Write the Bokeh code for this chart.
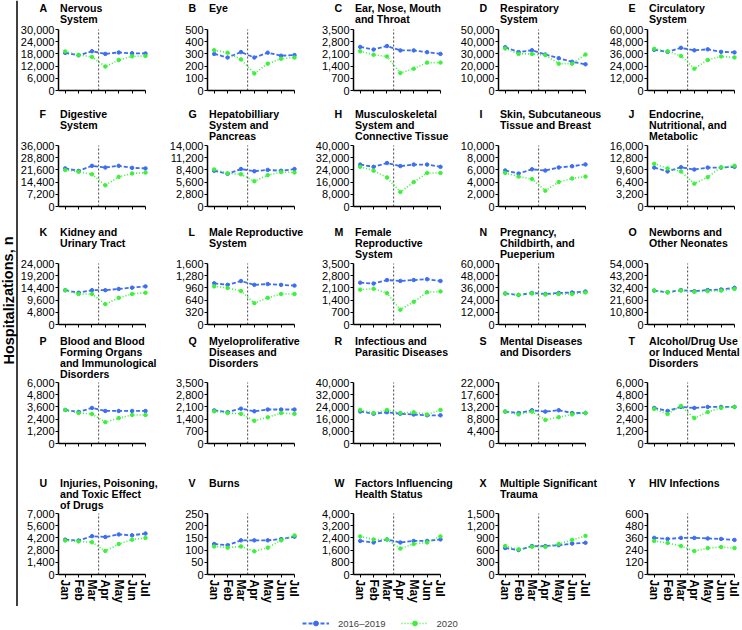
from bokeh.plotting import figure
from bokeh.layouts import row, column
from bokeh.models import Range1d, FixedTicker, NumeralTickFormatter, Span, Label, Legend, LegendItem
from bokeh.embed import file_html
from bokeh.resources import INLINE

# ---------------- data ----------------
months = ["Jan", "Feb", "Mar", "Apr", "May", "Jun", "Jul"]
letters = list("ABCDEFGHIJKLMNOPQRSTUVWXY")
titles = [
    "Nervous\nSystem", "Eye", "Ear, Nose, Mouth\nand Throat", "Respiratory\nSystem", "Circulatory\nSystem",
    "Digestive\nSystem", "Hepatobilliary\nSystem and\nPancreas", "Musculoskeletal\nSystem and\nConnective Tissue",
    "Skin, Subcutaneous\nTissue and Breast", "Endocrine,\nNutritional, and\nMetabolic",
    "Kidney and\nUrinary Tract", "Male Reproductive\nSystem", "Female\nReproductive\nSystem",
    "Pregnancy,\nChildbirth, and\nPueperium", "Newborns and\nOther Neonates",
    "Blood and Blood\nForming Organs\nand Immunological\nDisorders", "Myeloproliferative\nDiseases and\nDisorders",
    "Infectious and\nParasitic Diseases", "Mental Diseases\nand Disorders", "Alcohol/Drug Use\nor Induced Mental\nDisorders",
    "Injuries, Poisoning,\nand Toxic Effect\nof Drugs", "Burns", "Factors Influencing\nHealth Status",
    "Multiple Significant\nTrauma", "HIV Infections",
]
y_max = [30000, 500, 3500, 50000, 60000,
         36000, 14000, 40000, 10000, 16000,
         24000, 1600, 3500, 60000, 54000,
         6000, 3500, 40000, 22000, 6000,
         7000, 250, 4000, 1500, 600]

A_base = [18500, 17300, 19300, 18000, 18700, 18300, 18200]
A_2020 = [19200, 17500, 16500, 11800, 15000, 16800, 17000]
B_base = [300, 270, 315, 270, 310, 285, 290]
B_2020 = [330, 310, 255, 140, 220, 260, 270]
C_base = [2500, 2350, 2550, 2300, 2300, 2200, 2100]
C_2020 = [2250, 2050, 1950, 1000, 1250, 1600, 1600]
D_base = [35500, 31500, 33000, 29500, 26500, 23500, 21500]
D_2020 = [34500, 30000, 30000, 29000, 22000, 22000, 29500]
E_base = [40000, 38000, 42000, 39500, 40500, 38000, 37500]
E_2020 = [41000, 38500, 34000, 21500, 30000, 33500, 32500]
F_base = [22500, 21000, 24000, 23000, 24000, 22800, 22500]
F_2020 = [21500, 20500, 19000, 12500, 17500, 19500, 20000]
G_base = [8200, 7500, 8600, 8100, 8400, 8200, 8600]
G_2020 = [8500, 7600, 7400, 5800, 7200, 7900, 7800]
H_base = [27500, 26000, 28500, 26500, 27500, 27500, 26000]
H_2020 = [26000, 23500, 19000, 9500, 16000, 22000, 22000]
I_base = [5900, 5400, 6100, 5900, 6400, 6600, 6900]
I_2020 = [5500, 4900, 4500, 2600, 4000, 4600, 4900]
J_base = [10200, 9200, 10300, 9700, 10200, 10200, 10400]
J_2020 = [11200, 10000, 9200, 6000, 7700, 10300, 10700]
K_base = [13500, 12500, 13500, 13500, 14000, 14500, 15000]
K_2020 = [13500, 12000, 12000, 8000, 10500, 12000, 12500]
L_base = [1080, 1040, 1140, 1040, 1060, 1040, 1020]
L_2020 = [1000, 960, 880, 560, 700, 800, 800]
M_base = [2400, 2350, 2550, 2500, 2550, 2600, 2500]
M_2020 = [2000, 2050, 1800, 850, 1300, 1850, 1900]
N_base = [30500, 29000, 31000, 30000, 31000, 31500, 32500]
N_2020 = [30500, 29000, 30500, 29500, 30000, 30000, 31500]
O_base = [30000, 28500, 30500, 29500, 30500, 31000, 32500]
O_2020 = [30000, 28500, 30000, 29000, 29500, 30000, 31500]
P_base = [3300, 3100, 3500, 3200, 3200, 3200, 3200]
P_2020 = [3300, 3000, 2900, 2100, 2500, 2800, 2800]
Q_base = [1900, 1800, 2000, 1850, 1950, 1950, 1950]
Q_2020 = [1850, 1750, 1700, 1300, 1500, 1750, 1700]
R_base = [21000, 19500, 20500, 19500, 19000, 18500, 18500]
R_2020 = [22000, 20000, 22000, 20000, 20500, 19000, 22000]
S_base = [11500, 11000, 12000, 11500, 12000, 11000, 11000]
S_2020 = [11500, 10500, 11500, 8500, 9500, 10500, 11000]
T_base = [3500, 3200, 3600, 3500, 3600, 3600, 3600]
T_2020 = [3400, 2900, 3700, 2500, 3100, 3500, 3600]
U_base = [4000, 3900, 4400, 4300, 4600, 4500, 4700]
U_2020 = [3900, 3800, 3700, 2700, 3500, 4000, 4200]
V_base = [125, 120, 140, 140, 140, 145, 155]
V_2020 = [115, 110, 115, 95, 110, 140, 160]
W_base = [2200, 2100, 2300, 2100, 2200, 2200, 2300]
W_2020 = [2500, 2300, 2300, 1700, 2000, 2100, 2500]
X_base = [650, 600, 700, 700, 720, 760, 780]
X_2020 = [700, 620, 680, 680, 750, 850, 950]
Y_base = [360, 350, 360, 360, 355, 350, 340]
Y_2020 = [330, 310, 280, 230, 260, 270, 260]

base_series = [A_base, B_base, C_base, D_base, E_base, F_base, G_base, H_base, I_base, J_base,
               K_base, L_base, M_base, N_base, O_base, P_base, Q_base, R_base, S_base, T_base,
               U_base, V_base, W_base, X_base, Y_base]
covid_series = [A_2020, B_2020, C_2020, D_2020, E_2020, F_2020, G_2020, H_2020, I_2020, J_2020,
                K_2020, L_2020, M_2020, N_2020, O_2020, P_2020, Q_2020, R_2020, S_2020, T_2020,
                U_2020, V_2020, W_2020, X_2020, Y_2020]
legend_labels = ["2016\u20132019", "2020"]
y_title = "Hospitalizations, n"

# ---------------- style / geometry (page pixels) ----------------
FONT = "Liberation Sans"
BLUE = "#3d6ef2"
GREEN = "#3cf03c"
FW, FH = 89, 61                 # axis-to-right-margin width, plot height
X0, XJ = -0.5, 6.15
x_ppu = FW / (XJ - X0)
axis_x = [58, 207, 353, 498, 647]
col_start = [18, 167, 313, 458, 607]
col_end = col_start[1:] + [742]
title_c = [7, 113, 231, 340, 482]      # centre of first title line
plot_top = [29, 145, 263, 382, 513]    # y of axis maximum
LINE_H = 11
TITLE_SIZE = "10.6px"
row_top = [0]
for r in range(4):
    row_top.append(plot_top[r] + FH + 5)
row_bottom = row_top[1:] + [plot_top[4] + FH + 32]

split_x = months.index("Apr") - 0.5
xs = list(range(len(months)))

rows = []
for r in range(5):
    figs = []
    plot_b = plot_top[r] + FH
    for c in range(5):
        i = r * 5 + c
        ymax = y_max[i]
        y_ppu = FH / ymax
        x_start = X0 - (axis_x[c] - col_start[c]) / x_ppu
        x_end = X0 + (col_end[c] - axis_x[c]) / x_ppu
        y_start = -(row_bottom[r] - plot_b) / y_ppu
        y_end = (plot_b - row_top[r]) / y_ppu
        p = figure(width=col_end[c] - col_start[c], height=row_bottom[r] - row_top[r],
                   min_border=0, x_range=Range1d(x_start, x_end), y_range=Range1d(y_start, y_end),
                   output_backend="svg", toolbar_location=None)
        p.outline_line_color = None
        p.grid.visible = False

        yax = p.yaxis[0]
        yax.fixed_location = X0
        yax.bounds = (0, ymax)
        yax.ticker = FixedTicker(ticks=[ymax * k / 5 for k in range(6)])
        yax.formatter = NumeralTickFormatter(format="0,0")
        xax = p.xaxis[0]
        xax.fixed_location = 0
        xax.bounds = (X0, xs[-1])
        xax.ticker = FixedTicker(ticks=xs)
        xax.major_label_overrides = {k: m for k, m in enumerate(months)}
        for ax in (xax, yax):
            ax.axis_line_color = "black"
            ax.axis_line_width = 1.5
            ax.major_tick_line_color = "black"
            ax.major_tick_line_width = 1
            ax.major_tick_out = 3
            ax.major_tick_in = 0
            ax.minor_tick_line_color = None
            ax.major_label_text_font = FONT
            ax.major_label_text_color = "black"
        yax.major_label_text_font_size = "11px"
        yax.major_label_standoff = 1
        if r == 4:
            xax.major_label_orientation = "vertical"
            xax.major_label_text_font_size = "12px"
            xax.major_label_text_font_style = "bold"
            xax.major_label_standoff = 2
        else:
            xax.major_label_text_color = None

        p.segment(x0=[split_x], y0=[0], x1=[split_x], y1=[ymax], line_color="#444444",
                  line_width=1, line_dash="2 2")

        p.line(xs, base_series[i], line_color=BLUE, line_width=1.8, line_dash="4 2")
        p.scatter(xs, base_series[i], marker="circle", size=3.5, fill_color=BLUE, line_color=BLUE)
        p.line(xs, covid_series[i], line_color=GREEN, line_width=1.6, line_dash="1 2")
        p.scatter(xs, covid_series[i], marker="circle", size=3.5, fill_color=GREEN, line_color=GREEN)

        for k, txt in enumerate(titles[i].split("\n")):
            yc = title_c[r] + LINE_H * k
            p.add_layout(Label(x=X0 + 1.5 / x_ppu, y=(plot_b - yc) / y_ppu, text=txt, text_font=FONT,
                               text_font_size=TITLE_SIZE, text_font_style="bold",
                               text_baseline="middle", text_align="left", text_color="black"))
        p.add_layout(Label(x=X0 - 19 / x_ppu, y=(plot_b - title_c[r]) / y_ppu, text=letters[i],
                           text_font=FONT, text_font_size=TITLE_SIZE, text_font_style="bold",
                           text_baseline="middle", text_align="left", text_color="black"))
        figs.append(p)
    rows.append(row(*figs, spacing=0))

grid_h = row_bottom[4]
left = figure(width=col_start[0], height=grid_h, x_range=Range1d(0, col_start[0]), y_range=Range1d(0, grid_h),
              min_border=0, x_axis_location=None, y_axis_location=None,
              output_backend="svg", toolbar_location=None)
left.outline_line_color = None
left.grid.visible = False
left.add_layout(Span(location=16.5, dimension="height", line_color="black", line_width=1.5))
left.add_layout(Label(x=8, y=grid_h - 300, text=y_title, angle=1.5708,
                      text_font=FONT, text_font_size="14.5px", text_font_style="bold",
                      text_align="center", text_baseline="middle", text_color="black"))

LEG_H = 629 - grid_h
leg = figure(width=742, height=LEG_H, x_range=Range1d(100, 101), y_range=Range1d(0, 1),
             min_border=0, x_axis_location=None, y_axis_location=None,
             output_backend="svg", toolbar_location=None)
leg.outline_line_color = None
leg.grid.visible = False
l1 = leg.line(xs, base_series[0], line_color=BLUE, line_width=1.8, line_dash="4 2")
s1 = leg.scatter(xs, base_series[0], marker="circle", size=5, fill_color=BLUE, line_color=BLUE)
l2 = leg.line(xs, covid_series[0], line_color=GREEN, line_width=1.6, line_dash="1 2")
s2 = leg.scatter(xs, covid_series[0], marker="circle", size=5, fill_color=GREEN, line_color=GREEN)
legend = Legend(items=[LegendItem(label=legend_labels[0], renderers=[l1, s1]),
                       LegendItem(label=legend_labels[1], renderers=[l2, s2])],
                orientation="horizontal", location=(302, 0), glyph_width=27, glyph_height=12,
                label_standoff=9, spacing=15, label_text_font=FONT, label_text_font_size="9.5px",
                label_height=12, border_line_color=None, background_fill_alpha=0, padding=0, margin=0)
leg.add_layout(legend, "center")

layout = column(row(left, column(*rows, spacing=0), spacing=0), leg, spacing=0)
open("out.html", "w").write(file_html(layout, INLINE))
